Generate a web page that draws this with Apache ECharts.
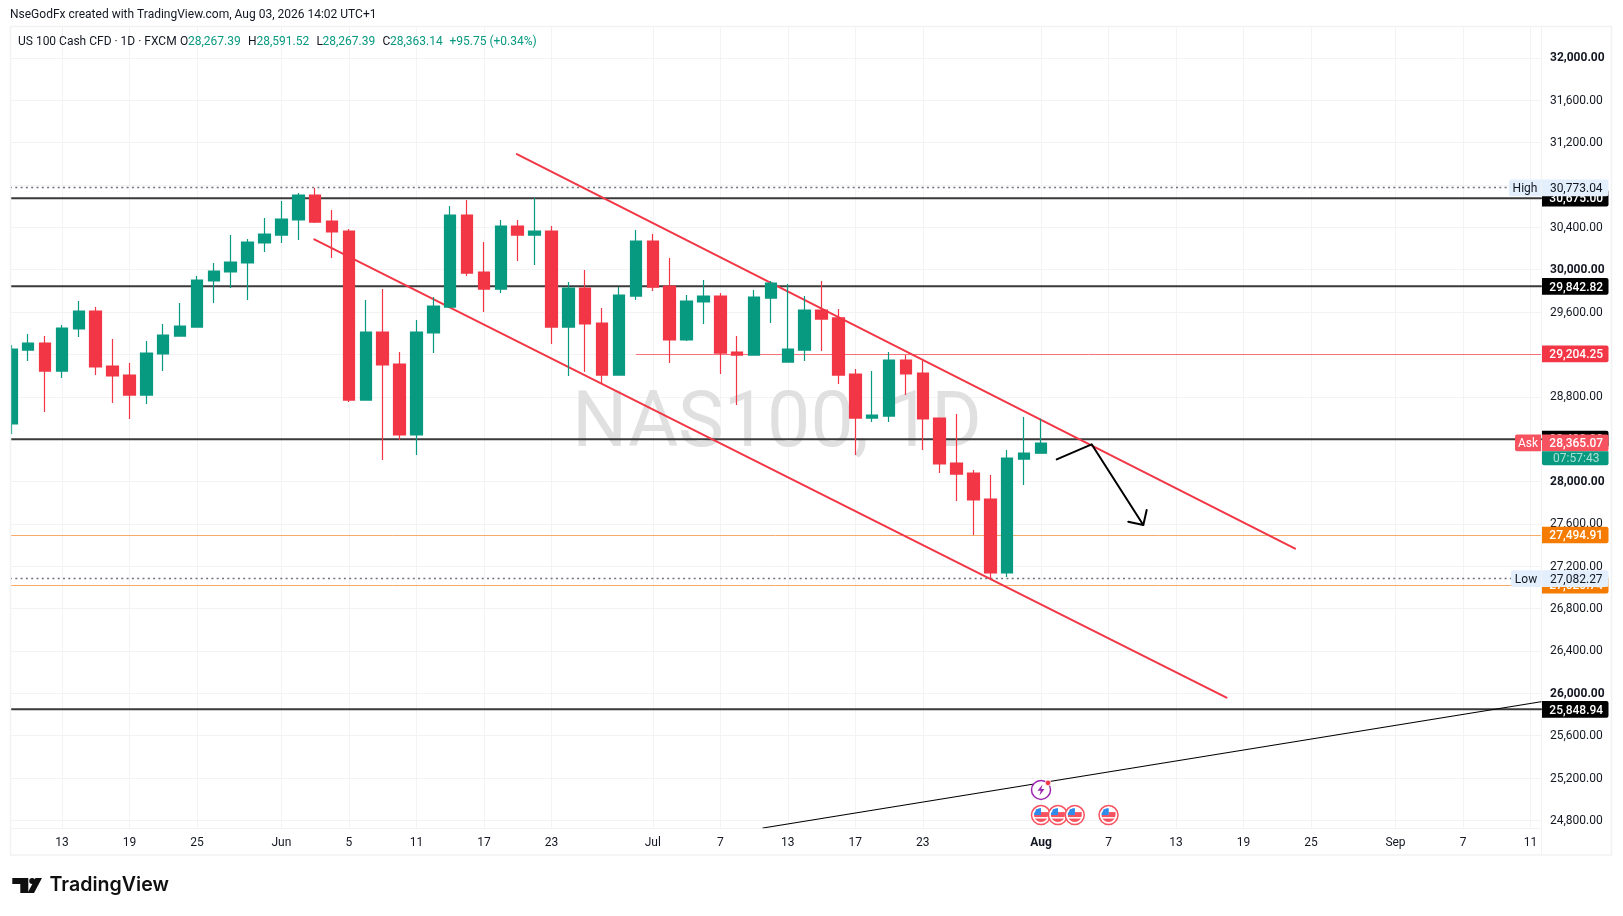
<!DOCTYPE html>
<html>
<head>
<meta charset="utf-8">
<style>html,body{margin:0;padding:0;background:#fff}#c{width:1623px;height:916px}</style>
<script src="https://cdn.jsdelivr.net/npm/echarts@6/dist/echarts.min.js"></script>
</head>
<body>
<div id="c"></div>
<script>
// ---- data ----
const dates = ['May 8','May 11','May 12','May 13','May 14','May 15','May 18','May 19','May 20','May 21','May 22','May 25','May 26','May 27','May 28','May 29','Jun 1','Jun 2','Jun 3','Jun 4','Jun 5','Jun 8','Jun 9','Jun 10','Jun 11','Jun 12','Jun 15','Jun 16','Jun 17','Jun 18','Jun 19','Jun 22','Jun 23','Jun 24','Jun 25','Jun 26','Jun 29','Jun 30','Jul 1','Jul 2','Jul 3','Jul 6','Jul 7','Jul 8','Jul 9','Jul 10','Jul 13','Jul 14','Jul 15','Jul 16','Jul 17','Jul 20','Jul 21','Jul 22','Jul 23','Jul 24','Jul 27','Jul 28','Jul 29','Jul 30','Jul 31','Aug 3'];
const opens  = [28543,29241,29307,29043,29440,29610,29090,29005,28816,29204,29373,29458,29893,29978,30063,30252,30327,30469,30705,30459,30365,28769,29411,29109,28439,29402,29647,30516,29978,29817,30412,30327,30365,29458,29827,29496,29005,29751,30271,29846,29336,29695,29751,29222,29194,29732,29128,29241,29619,29544,29015,28599,28618,29147,29024,28599,28174,28080,27834,27136,28212,28267.39];
const closes = [29251,29307,29043,29449,29610,29081,28996,28816,29213,29383,29468,29902,29987,30072,30261,30337,30478,30705,30450,30356,28769,29411,29100,28439,29411,29657,30516,29968,29817,30412,30327,30365,29458,29827,29487,29005,29761,30271,29836,29336,29704,29751,29213,29194,29742,29874,29251,29619,29534,29005,28599,28628,29147,29015,28590,28165,28070,27825,27136,28221,28269,28363.14];
const lows   = [28448,29137,28656,28977,29364,29005,28741,28590,28731,29043,29373,29458,29685,29827,29713,30167,30252,30280,30441,30110,28750,28769,28203,28391,28250,29213,29647,29940,29600,29780,30082,30044,29298,28996,29034,28920,29005,29713,29798,29119,29326,29487,29015,28722,29194,29496,29128,29137,29232,28920,28250,28561,28561,28816,28297,28080,27815,27494.91,27082.27,27098,27967,28267.39];
const highs  = [29289,29392,29373,29477,29704,29647,29345,29119,29326,29487,29685,29940,30063,30327,30289,30488,30648,30724,30773.04,30563,30384,29713,29817,29222,29525,29742,30601,30658,30261,30469,30469,30677,30412,29883,29997,29638,29836,30374,30337,30110,29761,29902,29780,29373,29808,29893,29865,29751,29893,29628,29062,29043,29222,29194,29137,28599,28637,28108,28061,28297,28609,28591.52];

const dayTicks  = [3,7,11,16,20,24,28,32,38,42,46,50,54,61,65,69,73,77,82,86,90];
const dayLabels = ['13','19','25','Jun','5','11','17','23','Jul','7','13','17','23','Aug','7','13','19','25','Sep','7','11'];
const priceGrid   = [24800,25200,25600,26000,26400,26800,27200,27600,28000,28400,28800,29200,29600,30000,30400,30800,31200,31600,32000];
const priceLabels = [24800,25200,25600,26000,26400,26800,27200,27600,28000,28800,29600,30000,30400,31200,31600,32000];

const supportLevels = [30675,29842.82,28400,25848.94];
const redLevel = 29204.25, redLevelStart = 37;
const orangeLevels = [27494.91,27020.74];
const highLevel = 30773.04, lowLevel = 27082.27, askLevel = 28365.07;

const upperChannel = [[29.95,31092],[76.05,27366]];
const lowerChannel = [[17.95,30287],[71.99,25959]];
const trendLine    = [[44.53,24728],[90.62,25920]];
const arrowBody    = [[61.93,28209],[64.0,28351],[67.06,27589],[66.17,27620]];
const arrowHead    = [[67.06,27589],[67.26,27730]];

const eventDays = [61,62,63,65], eventLevel = 24850;
const boltDay = 61, boltLevel = 25088;

const tagPrices = [30675,29842.82,29204.25,28400,27494.91,27020.74,25848.94,30773.04,27082.27,28365.07];
const tagTexts  = ['30,675.00','29,842.82','29,204.25','28,400.00','27,494.91','27,020.74','25,848.94','30,773.04','27,082.27','28,365.07'];
const tagKinds  = ['black','black','red','black','orange','orange','black','info','info','ask'];
const tagSides  = ['','','','','','','','High','Low','Ask'];
const countdown = '07:57:43';

// ---- presentation ----
const XMIN = -0.077, XMAX = 90.62, YMIN = 24728, YMAX = 32301;
const GREEN = '#089981', RED = '#F23645', INK = '#131722', FONT = 'Roboto';
const tagBg = {black:'#000000', red:'#F23645', orange:'#F57C00', info:'#E3EFFD', ask:'#F7525F'};
const tagFg = {black:'#ffffff', red:'#ffffff', orange:'#ffffff', info:INK, ask:'#ffffff'};
const sideW = {High:32, Low:30, Ask:26};
const money = v => v.toLocaleString('en-US',{minimumFractionDigits:2,maximumFractionDigits:2});

function lineSeries(data, color, width, z, extra) {
  return Object.assign({type:'line', data, symbol:'none', silent:true, z, animation:false,
    lineStyle:{color, width, cap:'round', join:'round'}}, extra || {});
}

const candleData = opens.map((o,i)=>[i,o,closes[i],lows[i],highs[i]]);

// horizontal levels, snapped to a whole pixel row so that they stay crisp
function levelSeries(values, from, stroke, lineWidth, dash) {
  return {type:'custom', coordinateSystem:'cartesian2d', z:2, silent:true, animation:false, clip:true,
    data:values.map(v=>[from, v]), encode:{x:0,y:1},
    renderItem:(params, api)=>{
      const a = api.coord([api.value(0), api.value(1)]), b = api.coord([XMAX, api.value(1)]);
      const y = dash ? Math.floor(a[1]) + 0.5 : Math.round(a[1]) + 0.5;
      return {type:'line', shape:{x1:a[0],y1:y,x2:b[0],y2:y}, style:{stroke, lineWidth, lineDash:dash||null, fill:null}};
    }};
}

function renderTag(params, api) {
  const i = api.value(2), pt = api.coord([XMAX, api.value(1)]);
  const kind = tagKinds[i], side = tagSides[i], H = 16.7, x0 = pt[0] + 1, W = 66.5, y0 = pt[1] - H/2;
  const kids = [
    {type:'rect', shape:{x:x0,y:y0,width:W,height:H,r:[0,2,2,0]}, style:{fill:tagBg[kind]}},
    {type:'text', style:{text:tagTexts[i], x:x0+W/2+1, y:pt[1]+1.3, align:'center', verticalAlign:'middle', fill:tagFg[kind], font:(kind==='info'?'':'500 ')+'12px '+FONT}}
  ];
  if (side) {
    const w = sideW[side];
    kids.push({type:'rect', shape:{x:pt[0]-w,y:y0,width:w,height:H,r:[2,0,0,2]}, style:{fill:tagBg[kind]}});
    kids.push({type:'text', style:{text:side, x:pt[0]-w/2, y:pt[1]+1.3, align:'center', verticalAlign:'middle', fill:tagFg[kind], font:'12px '+FONT}});
  }
  if (kind === 'ask') {
    kids.push({type:'rect', shape:{x:x0,y:y0+H,width:W,height:14,r:[0,0,2,2]}, style:{fill:GREEN}});
    kids.push({type:'text', style:{text:countdown, x:x0+W/2+1, y:y0+H+7.5, align:'center', verticalAlign:'middle', fill:'#A8E0D2', font:'12px '+FONT}});
  }
  return {type:'group', children:kids};
}
function renderFlag(params, api) {
  const p = api.coord([api.value(0), api.value(1)]), cx = p[0], cy = p[1], R = 9.5, r = 7;
  return {type:'group', children:[
    {type:'circle', shape:{cx,cy,r:R}, style:{fill:'#fff', stroke:'#F7525F', lineWidth:1.5}},
    {type:'sector', shape:{cx,cy,r,r0:0,startAngle:0,endAngle:Math.PI}, style:{fill:'#F7525F'}},
    {type:'rect', shape:{x:cx-r,y:cy+2,width:2*r,height:1.5}, style:{fill:'#fff'}},
    {type:'rect', shape:{x:cx,y:cy-3,width:r,height:3}, style:{fill:'#F7525F'}},
    {type:'sector', shape:{cx:cx,cy:cy,r,r0:0,startAngle:Math.PI,endAngle:Math.PI*1.5}, style:{fill:'#2F8CEB'}},
    {type:'rect', shape:{x:cx-5,y:cy-6,width:5,height:6}, style:{fill:'#2F8CEB'}}
  ]};
}
function renderBolt(params, api) {
  const p = api.coord([api.value(0), api.value(1)]), cx = p[0], cy = p[1];
  const pts = [[1.5,-5.5],[-3.5,0.8],[-0.3,0.8],[-1.5,5.5],[3.5,-1],[0.3,-1]].map(a=>[cx+a[0],cy+a[1]]);
  return {type:'group', children:[
    {type:'circle', shape:{cx,cy,r:9.5}, style:{fill:'#fff', stroke:'#9C27B0', lineWidth:1.5}},
    {type:'polygon', shape:{points:pts}, style:{fill:'#9C27B0'}},
    {type:'circle', shape:{cx:cx+7,cy:cy-7,r:2.8}, style:{fill:'#F23645', stroke:'#fff', lineWidth:0.8}}
  ]};
}

const legendBits = [
  [18,'US 100 Cash CFD · 1D · FXCM',INK],
  [180,'O',INK],[188,'28,267.39',GREEN],
  [248,'H',INK],[256.5,'28,591.52',GREEN],
  [316.5,'L',INK],[322.5,'28,267.39',GREEN],
  [382.5,'C',INK],[390,'28,363.14',GREEN],
  [449.5,'+95.75 (+0.34%)',GREEN]
];

const graphics = [
  {type:'rect', silent:true, z:6, shape:{x:0,y:0,width:10,height:916}, style:{fill:'#ffffff'}},
  {type:'rect', silent:true, z:7, shape:{x:10.5,y:26.5,width:1601,height:828.5}, style:{fill:'none', stroke:'#F1F2F4', lineWidth:1.5}},
  {type:'line', silent:true, z:1, shape:{x1:10,y1:828.5,x2:1541,y2:828.5}, style:{stroke:'#F1F2F4', lineWidth:1}},
  {type:'line', silent:true, z:1, shape:{x1:1541.5,y1:26,x2:1541.5,y2:855}, style:{stroke:'#F1F2F4', lineWidth:1}},
  {type:'text', silent:true, z:1, style:{text:'NAS100, 1D', x:777, y:427, align:'center', verticalAlign:'middle', fill:'#E0E0E0', font:'77px Roboto'}},
  {type:'text', silent:true, z:8, style:{text:'NseGodFx created with TradingView.com, Aug 03, 2026 14:02 UTC+1', x:10, y:15, verticalAlign:'middle', fill:INK, font:'12px '+FONT}},
  // TradingView wordmark
  {type:'polygon', silent:true, z:8, shape:{points:[[12.3,878],[28.3,878],[28.3,893],[20.3,893],[20.3,884],[12.3,884]]}, style:{fill:'#0F0F0F'}},
  {type:'circle', silent:true, z:8, shape:{cx:32.2,cy:881,r:3}, style:{fill:'#0F0F0F'}},
  {type:'polygon', silent:true, z:8, shape:{points:[[35.5,878],[42,878],[34,893],[27.5,893]]}, style:{fill:'#0F0F0F'}},
  {type:'text', silent:true, z:8, style:{text:'TradingView', x:49.5, y:885, verticalAlign:'middle', fill:'#0F0F0F', font:'600 19.6px Inter'}}
].concat(legendBits.map(b=>({type:'text', silent:true, z:8, style:{text:b[1], x:b[0], y:42, verticalAlign:'middle', fill:b[2], font:'12px '+FONT}})));

const series = [];
supportLevels.forEach(v => series.push(lineSeries([[XMIN,v],[XMAX,v]], '#3A3A3A', 2, 2)));
series.push(levelSeries([redLevel], redLevelStart, '#F7707A', 1));
series.push(levelSeries(orangeLevels, XMIN, '#F5AC6B', 1));
series.push(levelSeries([highLevel, lowLevel], XMIN, '#6F7280', 1.5, [2,3.3]));
series.push(lineSeries(upperChannel, '#F23645', 2, 2));
series.push(lineSeries(lowerChannel, '#F23645', 2, 2));
series.push(lineSeries(trendLine, '#000000', 1.2, 2));
series.push({type:'candlestick', data:candleData, barWidth:12, z:3, silent:true, animation:false,
  encode:{x:0, y:[1,2,3,4]},
  itemStyle:{color:GREEN, color0:RED, borderColor:GREEN, borderColor0:RED, borderWidth:1.2}});
series.push(lineSeries(arrowBody, '#000000', 2, 4));
series.push(lineSeries(arrowHead, '#000000', 2, 4));
series.push({type:'custom', coordinateSystem:'cartesian2d', z:4, silent:true, animation:false, clip:false,
  data:eventDays.map(d=>[d,eventLevel]), renderItem:renderFlag, encode:{x:0,y:1}});
series.push({type:'custom', coordinateSystem:'cartesian2d', z:4, silent:true, animation:false, clip:false,
  data:[[boltDay,boltLevel]], renderItem:renderBolt, encode:{x:0,y:1}});
series.push({type:'custom', coordinateSystem:'cartesian2d', z:5, silent:true, animation:false, clip:false,
  data:tagPrices.map((p,i)=>[XMAX,p,i]), renderItem:renderTag, encode:{x:0,y:1}});

const chart = echarts.init(document.getElementById('c'), null, {renderer:'canvas', width:1623, height:916});
chart.setOption({
  animation:false,
  backgroundColor:'#ffffff',
  textStyle:{fontFamily:FONT},
  grid:{left:10, right:82, top:26, bottom:88, containLabel:false},
  xAxis:{type:'value', min:XMIN, max:XMAX, scale:true,
    axisLine:{show:false},
    axisTick:{show:false, customValues:dayTicks},
    splitLine:{show:true, lineStyle:{color:'#F3F3F3', width:1}},
    axisLabel:{customValues:dayTicks, margin:9, fontFamily:FONT, fontSize:12, color:INK, hideOverlap:false, showMinLabel:true, showMaxLabel:true,
      rich:{b:{fontWeight:'bold', fontFamily:FONT, fontSize:12, color:INK}},
      formatter:v=>{const l=dayLabels[dayTicks.indexOf(Math.round(v))]; return l==='Aug' ? '{b|'+l+'}' : l;}}
  },
  yAxis:{type:'value', position:'right', min:YMIN, max:YMAX, scale:true,
    axisLine:{show:false},
    axisTick:{show:false, customValues:priceGrid},
    splitLine:{show:true, lineStyle:{color:'#F3F3F3', width:1}},
    axisLabel:{customValues:priceLabels, margin:9, align:'left', padding:[1,0,0,0], fontFamily:FONT, fontSize:12, color:INK, hideOverlap:false,
      rich:{b:{fontWeight:'bold', fontFamily:FONT, fontSize:12, color:INK}},
      formatter:v=>v%2000===0 ? '{b|'+money(v)+'}' : money(v)}
  },
  series,
  graphic:{elements:graphics}
});
</script>
</body>
</html>
